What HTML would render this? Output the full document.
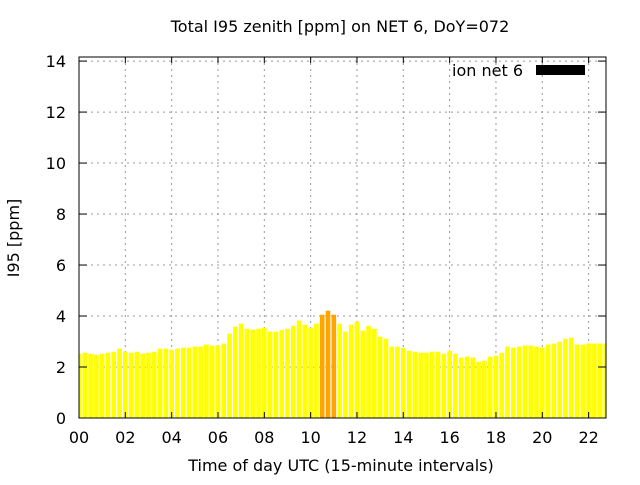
<!DOCTYPE html>
<html><head><meta charset="utf-8"><style>
body{margin:0;background:#fff}
svg text{font-family:"DejaVu Sans",sans-serif;fill:#000}
</style></head><body>
<svg id="chart" width="640" height="480" xmlns="http://www.w3.org/2000/svg">
<rect width="640" height="480" fill="#fff"/>
<text x="340" y="32" font-size="16" text-anchor="middle">Total I95 zenith [ppm] on NET 6, DoY=072</text>
<text x="341" y="471" font-size="16" text-anchor="middle">Time of day UTC (15-minute intervals)</text>
<text x="19" y="238" font-size="16" text-anchor="middle" transform="rotate(-90 19 238)">I95 [ppm]</text>
<g id="grid"></g>
<g id="bars"></g>
<g id="axes"></g>
<g>
<text x="523" y="76" font-size="16" text-anchor="end">ion net 6</text>
<rect x="536" y="65" width="49" height="10" fill="#000"/>
</g>
</svg>
<script>
const values=[2.52,2.56,2.52,2.48,2.52,2.56,2.60,2.72,2.60,2.56,2.60,2.52,2.56,2.60,2.72,2.72,2.68,2.72,2.76,2.76,2.80,2.80,2.88,2.84,2.84,2.92,3.31,3.58,3.70,3.50,3.46,3.50,3.54,3.39,3.39,3.46,3.50,3.62,3.82,3.66,3.54,3.70,4.05,4.21,4.05,3.70,3.39,3.66,3.78,3.42,3.62,3.50,3.19,3.11,2.80,2.80,2.75,2.64,2.60,2.56,2.56,2.60,2.60,2.52,2.64,2.52,2.37,2.41,2.37,2.21,2.25,2.41,2.44,2.56,2.80,2.76,2.80,2.84,2.84,2.80,2.76,2.88,2.92,2.99,3.11,3.15,2.88,2.88,2.92,2.92,2.92,2.92];
const highlight=[42,43,44];
const xTicks=["00","02","04","06","08","10","12","14","16","18","20","22"];
const yTicks=[0,2,4,6,8,10,12,14];
const L=79,R=606,T=57,B=418,XMAX=22.75,YMAX=14.16;
const xs=h=>L+(R-L)*h/XMAX, ys=v=>B-(B-T)*v/YMAX;
const NS="http://www.w3.org/2000/svg";
function mk(tag,attrs,parent){const e=document.createElementNS(NS,tag);for(const k in attrs)e.setAttribute(k,attrs[k]);parent.appendChild(e);return e;}
const grid=document.getElementById('grid'),bars=document.getElementById('bars'),axes=document.getElementById('axes');
xTicks.forEach((t,i)=>{const x=xs(i*2);
 const g=mk('line',{x1:x,x2:x,y1:T,y2:B,stroke:'#999','stroke-dasharray':'2,4'},grid);
 
 
 const tk=mk('text',{x:x,y:B+25,'font-size':16,'text-anchor':'middle'},axes);tk.textContent=t;
 
 
 const m1=mk('line',{x1:x,x2:x,y1:B,y2:B-6,stroke:'#000'},axes);
 
 
 const m2=mk('line',{x1:x,x2:x,y1:T,y2:T+6,stroke:'#000'},axes);
 
 
});
yTicks.forEach(v=>{const y=ys(v);
 if(v>0){const g=mk('line',{x1:L,x2:R,y1:y,y2:y,stroke:'#999','stroke-dasharray':'2,4'},grid);
 
 }
 const tk=mk('text',{x:L-13,y:y+6,'font-size':16,'text-anchor':'end'},axes);tk.textContent=v;
 
 
 const m1=mk('line',{x1:L,x2:L+8,y1:y,y2:y,stroke:'#000'},axes);
 
 
 const m2=mk('line',{x1:R,x2:R-8,y1:y,y2:y,stroke:'#000'},axes);
 
 
});
const bw=(R-L)*0.2/XMAX;
values.forEach((v,i)=>{const c=xs(i*0.25);let x0=Math.max(L,c-bw/2),x1=Math.min(R,c+bw/2);
 const r=mk('rect',{x:x0,y:ys(v),width:x1-x0,height:B-ys(v),fill:highlight.includes(i)?'#ffa500':'#ffff00'},bars);
 
 
});
const fr=mk('rect',{x:L,y:T,width:R-L,height:B-T,fill:'none',stroke:'#000','stroke-width':1},axes);


</script>
</body></html>
